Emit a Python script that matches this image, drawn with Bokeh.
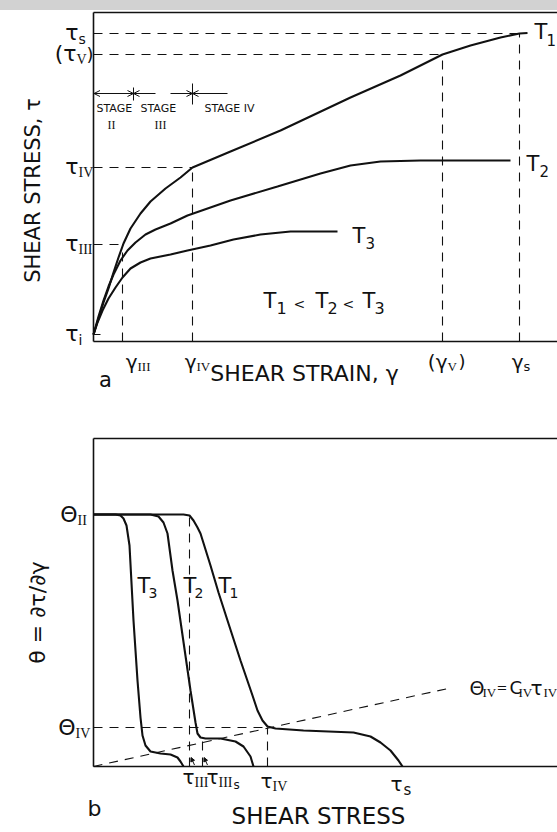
import numpy as np
from bokeh.plotting import figure
from bokeh.models import Label, Range1d, FixedTicker, Arrow, OpenHead, NormalHead, Div
from bokeh.layouts import column
from bokeh.embed import file_html
from bokeh.resources import INLINE

FONT = "DejaVu Sans"
SERIF = "Liberation Serif"
INK = "#111111"

# ---------------- panel a : shear stress vs shear strain ----------------
tau_i, tau_III, tau_IV, tau_V, tau_s = 0.7, 9.7, 17.4, 28.7, 30.8
gam_III, gam_IV, gam_V, gam_s = 2.9, 9.9, 34.9, 42.6
stage_III_start = 4.0

T1_strain = [0, 0.5, 1.0, 1.5, 2.0, 2.5, 3.0, 3.7, 4.7, 5.7, 7.2, 8.7, 9.9, 13.7, 18.7, 25.7, 30.7, 34.9, 37.7, 40.7, 42.6, 43.4]
T1_stress = [0.7, 2.3, 3.9, 5.3, 6.9, 8.4, 9.8, 11.3, 12.8, 14.0, 15.3, 16.4, 17.4, 19.0, 21.1, 24.4, 26.6, 28.7, 29.6, 30.4, 30.8, 30.85]
T2_strain = [0, 0.5, 1.0, 1.5, 2.0, 2.7, 3.4, 4.2, 5.2, 6.2, 7.7, 9.4, 13.7, 18.4, 22.7, 25.7, 28.7, 32.7, 41.7]
T2_stress = [0.7, 2.5, 4.1, 5.5, 6.7, 8.1, 9.1, 9.9, 10.7, 11.2, 11.8, 12.6, 14.1, 15.5, 16.8, 17.6, 18.0, 18.1, 18.1]
T3_strain = [0, 0.4, 0.9, 1.5, 2.2, 2.9, 3.7, 4.7, 5.7, 7.7, 9.4, 11.7, 14.0, 16.7, 19.7, 24.4]
T3_stress = [0.7, 1.9, 3.1, 4.3, 5.4, 6.4, 7.3, 7.9, 8.3, 8.7, 9.1, 9.6, 10.2, 10.7, 11.0, 11.0]

# ---------------- panel b : hardening rate vs shear stress ----------------
theta_II, theta_IV = 25.2, 3.9
b_tau_III, b_tau_IIIs, b_tau_IV, b_tau_s = 9.6, 10.9, 17.4, 30.9
C_IV = 0.22

bT1_stress = [0, 9.0, 9.6, 10.0, 10.4, 10.7, 11.7, 12.5, 13.4, 14.7, 15.9, 16.4, 16.9, 17.4, 18.2, 21.0, 26.0, 27.7, 28.7, 29.7, 30.5, 30.9]
bT1_theta = [25.2, 25.2, 25.1, 24.6, 23.9, 23.3, 20.1, 17.4, 14.6, 10.6, 7.1, 5.6, 4.6, 4.0, 3.8, 3.6, 3.4, 3.0, 2.4, 1.6, 0.6, 0.0]
bT2_stress = [0, 5.7, 6.5, 7.0, 7.4, 7.9, 8.4, 9.7, 10.2, 10.4, 10.7, 11.2, 12.7, 14.2, 15.0, 15.7, 16.0]
bT2_theta = [25.2, 25.2, 25.0, 24.4, 23.3, 19.6, 16.6, 7.6, 4.4, 3.3, 2.9, 2.8, 2.8, 2.5, 2.0, 1.0, 0.0]
bT3_stress = [0, 2.2, 2.7, 3.0, 3.3, 3.6, 4.0, 4.4, 4.7, 4.9, 5.2, 5.7, 6.7, 7.7, 8.4, 8.7, 9.0]
bT3_theta = [25.2, 25.2, 25.1, 24.8, 24.1, 22.1, 14.6, 8.6, 4.9, 3.1, 2.1, 1.5, 1.3, 1.2, 0.9, 0.5, 0.0]


def put(p, x, y, text, size, dx=0, dy=0, align="left", baseline="middle", angle=0.0, font=FONT):
    p.add_layout(Label(x=x, y=y, x_offset=dx, y_offset=dy, text=text,
                       text_font=font, text_font_size=f"{size}px",
                       text_align=align, text_baseline=baseline,
                       angle=angle, text_color=INK))


def make_fig(height, ystart, yend, ytop):
    p = figure(width=557, height=height, output_backend="svg", toolbar_location=None,
               x_range=Range1d(-9.3, 46.4), y_range=Range1d(ystart, yend),
               min_border=0, min_border_left=0, min_border_right=0,
               min_border_top=0, min_border_bottom=0)
    p.grid.visible = False
    p.outline_line_color = None
    p.background_fill_color = "white"
    p.border_fill_color = "white"
    for ax, bnd in ((p.xaxis[0], (0, 46.4)), (p.yaxis[0], (0, ytop))):
        ax.ticker = FixedTicker(ticks=[])
        ax.major_label_text_font_size = "0px"
        ax.major_tick_out = 0
        ax.major_tick_in = 0
        ax.minor_tick_out = 0
        ax.minor_tick_in = 0
        ax.major_label_standoff = 0
        ax.axis_line_color = INK
        ax.axis_line_width = 1.6
        ax.fixed_location = 0
        ax.bounds = bnd
    p.segment(x0=[0], y0=[ytop], x1=[46.4], y1=[ytop], line_color=INK, line_width=1.6)
    return p


DASH = "9 7"
SUB = 14

# ============ panel a ============
p1 = make_fig(385, -5.4, 33.1, 32.9)

hx1 = [gam_s, gam_V, gam_IV, gam_III]
hy = [tau_s, tau_V, tau_IV, tau_III]
p1.segment(x0=[0] * 4, y0=hy, x1=hx1, y1=hy, line_color=INK, line_width=1.1, line_dash=DASH)
p1.segment(x0=hx1, y0=[0] * 4, x1=hx1, y1=hy, line_color=INK, line_width=1.1, line_dash=DASH)

for xs, ys in ((T1_strain, T1_stress), (T2_strain, T2_stress), (T3_strain, T3_stress)):
    p1.line(xs, ys, line_color=INK, line_width=2.1)

p1.segment(x0=[0], y0=[tau_i], x1=[0.7], y1=[tau_i], line_color=INK, line_width=1.2)

# stage indicator
ys_stage = 24.8
p1.segment(x0=[0, 7.7], y0=[ys_stage, ys_stage], x1=[6.2, 13.4], y1=[ys_stage, ys_stage],
           line_color=INK, line_width=1)
p1.segment(x0=[stage_III_start, gam_IV], y0=[24.1, 23.7], x1=[stage_III_start, gam_IV], y1=[25.4, 25.8],
           line_color=INK, line_width=1)
for xs, xe in ((1.6, 0.05), (2.6, stage_III_start), (5.4, stage_III_start), (8.3, gam_IV), (11.5, gam_IV)):
    p1.add_layout(Arrow(x_start=xs, y_start=ys_stage, x_end=xe, y_end=ys_stage,
                        line_alpha=0, end=OpenHead(size=6, line_width=1, line_color=INK)))
put(p1, 0.3, 23.3, "STAGE", 11)
put(p1, 4.7, 23.3, "STAGE", 11)
put(p1, 11.1, 23.3, "STAGE IV", 11)
put(p1, 1.8, 21.7, "II", 12, align="center", font=SERIF)
put(p1, 6.7, 21.7, "III", 12, align="center", font=SERIF)

# y tick labels
for v, s, f in zip([tau_i, tau_III, tau_IV, tau_s], ["i", "III", "IV", "s"], [FONT, SERIF, SERIF, FONT]):
    put(p1, 0, v, "τ", 22, dx=-15, dy=1, align="right")
    put(p1, 0, v, s, SUB, dx=-15, dy=-5, font=f)
put(p1, 0, tau_V, "(τ", 22, dx=-17, dy=1, align="right")
put(p1, 0, tau_V, "V", SUB, dx=-17, dy=-5, font=SERIF)
put(p1, 0, tau_V, ")", 18, dx=-7, dy=0)

# x tick labels
for v, s, off, f in zip([gam_III, gam_IV, gam_s], ["III", "IV", "s"], [15, 4, 4], [SERIF, SERIF, FONT]):
    put(p1, v, 0, "γ", 20, dx=off, dy=-20, align="right")
    put(p1, v, 0, s, 13, dx=off, dy=-25, font=f)
put(p1, gam_V, 0, "(γ", 20, dx=5, dy=-20, align="right")
put(p1, gam_V, 0, "V", 13, dx=5, dy=-25, font=SERIF)
put(p1, gam_V, 0, ")", 18, dx=16, dy=-20)

# curve labels
put(p1, 43.4, 30.85, "T", 21, dx=7, dy=1)
put(p1, 43.4, 30.85, "1", 15, dx=19, dy=-7)
put(p1, 41.7, 18.1, "T", 21, dx=16, dy=-3)
put(p1, 41.7, 18.1, "2", 15, dx=29, dy=-10)
put(p1, 24.4, 11.0, "T", 21, dx=15, dy=-4)
put(p1, 24.4, 11.0, "3", 15, dx=28, dy=-11)

ax0, ay0 = 17.0, 4.1
for dx, dy, t, s in ((0, 0, "T", 21), (13, -7, "1", 16), (30, -3, "<", 14), (52, 0, "T", 21),
                     (64, -7, "2", 16), (79, -3, "<", 14), (99, 0, "T", 21), (111, -7, "3", 16)):
    put(p1, ax0, ay0, t, s, dx=dx, dy=dy)

put(p1, 0, 15.1, "SHEAR STRESS, τ", 21, dx=-61, align="center", angle=np.pi / 2)
put(p1, 21.1, 0, "SHEAR STRAIN, γ", 22, dy=-32, align="center")
put(p1, 1.2, 0, "a", 21, dy=-38, align="center")

# ============ panel b ============
p2 = make_fig(437, -6.6, 37.1, 32.8)

p2.segment(x0=[0], y0=[theta_IV], x1=[b_tau_IV], y1=[theta_IV], line_color=INK, line_width=1.1, line_dash=DASH)
p2.segment(x0=[b_tau_III, b_tau_IIIs, b_tau_IV], y0=[0, 0, 0],
           x1=[b_tau_III, b_tau_IIIs, b_tau_IV], y1=[theta_II, 2.7, theta_IV],
           line_color=INK, line_width=1.1, line_dash=DASH)
cx = np.array([0, 35.8])
p2.line(cx, C_IV * cx, line_color=INK, line_width=1.1, line_dash=DASH)

for xs, ys in ((bT1_stress, bT1_theta), (bT2_stress, bT2_theta), (bT3_stress, bT3_theta)):
    p2.line(xs, ys, line_color=INK, line_width=2.1)

for xb in (b_tau_III, b_tau_IIIs):
    p2.add_layout(Arrow(x_start=xb + 0.5, y_start=0.15, x_end=xb + 0.15, y_end=0.9,
                        line_color=INK, line_width=1,
                        end=NormalHead(size=4, fill_color=INK, line_color=INK)))

put(p2, 0, theta_II, "Θ", 22, dx=-16, align="right")
put(p2, 0, theta_II, "II", SUB, dx=-16, dy=-6, font=SERIF)
put(p2, 0, theta_IV, "Θ", 22, dx=-18, align="right")
put(p2, 0, theta_IV, "IV", SUB, dx=-18, dy=-6, font=SERIF)

put(p2, b_tau_III, 0, "τ", 20, dx=5, dy=-10, align="right")
put(p2, b_tau_III, 0, "III", SUB, dx=5, dy=-16, font=SERIF)
put(p2, b_tau_IIIs, 0, "τ", 20, dx=16, dy=-10, align="right")
put(p2, b_tau_IIIs, 0, "III", SUB, dx=16, dy=-16, font=SERIF)
put(p2, b_tau_IIIs, 0, "s", 12, dx=31, dy=-18)
put(p2, b_tau_IV, 0, "τ", 20, dx=5, dy=-14, align="right")
put(p2, b_tau_IV, 0, "IV", SUB, dx=5, dy=-20, font=SERIF)
put(p2, b_tau_s, 0, "τ", 20, dx=0, dy=-17, align="right")
put(p2, b_tau_s, 0, "s", 15, dx=1, dy=-23)

for xb, t in ((4.4, "3"), (9.0, "2"), (12.5, "1")):
    put(p2, xb, 18.1, "T", 21)
    put(p2, xb, 18.1, t, 14, dx=11, dy=-7)

fx, fy = 37.6, 7.9
for dx, dy, t, s, f in ((0, 0, "Θ", 19, FONT), (13, -5, "IV", 13, SERIF), (27, 0, "=", 13, FONT),
                        (40, 0, "C", 18, FONT), (49, -5, "IV", 13, SERIF), (61, 0, "τ", 20, FONT),
                        (74, -5, "IV", 13, SERIF)):
    put(p2, fx, fy, t, s, dx=dx, dy=dy, font=f)

put(p2, 0, 15.4, "θ = ∂τ/∂γ", 22, dx=-56, align="center", angle=np.pi / 2)
put(p2, 22.5, 0, "SHEAR STRESS", 23, dy=-49, align="center")
put(p2, 0.1, 0, "b", 22, dy=-42, align="center")

band = Div(text="", width=557, height=10, margin=0, styles={"background-color": "#d2d2d2"})
layout = column(band, p1, p2, spacing=0)
open("out.html", "w").write(file_html(layout, INLINE))
